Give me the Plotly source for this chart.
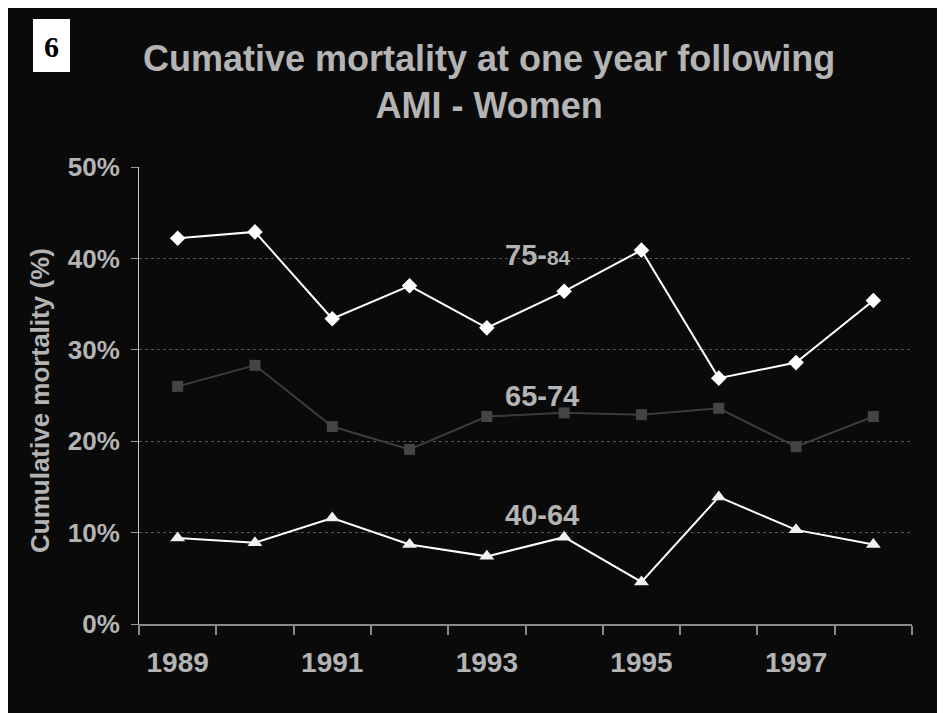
import plotly.graph_objects as go

years = ["1989", "1990", "1991", "1992", "1993", "1994", "1995", "1996", "1997", "1998"]
tick_labels = ["1989", "", "1991", "", "1993", "", "1995", "", "1997", ""]
age_75_84 = [42.2, 42.9, 33.4, 37.0, 32.4, 36.4, 40.9, 26.9, 28.6, 35.4]
age_65_74 = [26.0, 28.3, 21.6, 19.1, 22.7, 23.1, 22.9, 23.6, 19.4, 22.7]
age_40_64 = [9.4, 8.9, 11.6, 8.7, 7.4, 9.5, 4.6, 13.9, 10.3, 8.7]
y_ticks = [0, 10, 20, 30, 40, 50]
y_tick_labels = ["0%", "10%", "20%", "30%", "40%", "50%"]

FONT = "Liberation Sans, Arial, sans-serif"
GRAY = "#b4b4b4"
BG = "#0a0a0a"

fig = go.Figure()
fig.add_trace(go.Scatter(x=years, y=age_75_84, mode="lines+markers", name="75-84",
                         line=dict(color="#ffffff", width=2),
                         marker=dict(symbol="diamond", size=12, color="#ffffff")))
fig.add_trace(go.Scatter(x=years, y=age_65_74, mode="lines+markers", name="65-74",
                         line=dict(color="#3c3c3c", width=2),
                         marker=dict(symbol="square", size=11, color="#444444")))
fig.add_trace(go.Scatter(x=years, y=age_40_64, mode="lines+markers", name="40-64",
                         line=dict(color="#ffffff", width=2),
                         marker=dict(symbol="triangle-up", size=13, color="#f0f0f0")))

W, H = 945, 713
L, R, T, B = 131, 41, 159, 97
pw, ph = W - L - R, H - T - B
OFF = 8  # page margin offset seen in the reference

def px(xr):
    return (xr - OFF - L) / pw

def py(yr):
    return (H - B - (yr - OFF)) / ph

fig.update_layout(
    width=W, height=H,
    margin=dict(l=L, r=R, t=T, b=B, pad=0),
    paper_bgcolor=BG,
    plot_bgcolor=BG,
    showlegend=False,
    font=dict(family=FONT, color=GRAY, size=26, weight="bold"),
    xaxis=dict(type="category", tickvals=years, ticktext=tick_labels,
               tickson="boundaries", ticks="outside", ticklen=9, tickwidth=2,
               tickcolor="#8a8a8a", showline=True, linecolor="#8a8a8a", linewidth=2,
               showgrid=False, ticklabelstandoff=12,
               tickfont=dict(family=FONT, size=28, color=GRAY, weight="bold"),
               range=[-0.5, 9.5]),
    yaxis=dict(range=[0, 50], tickvals=y_ticks, ticktext=y_tick_labels,
               ticks="outside", ticklen=7, tickwidth=1, tickcolor="#9a9a9a",
               showline=True, linecolor="#c8c8c8", linewidth=1,
               showgrid=True, gridcolor="#555555", griddash="dot", gridwidth=1,
               zeroline=False, ticklabelstandoff=6,
               tickfont=dict(family=FONT, size=26, color=GRAY, weight="bold")),
)

fig.add_annotation(text="Cumative mortality at one year following<br>AMI - Women",
                   xref="paper", yref="paper", x=px(489), y=py(82),
                   showarrow=False, xanchor="center", yanchor="middle",
                   font=dict(family=FONT, size=36, color=GRAY, weight="bold"))

fig.add_shape(type="rect", xref="paper", yref="paper",
              x0=px(33), x1=px(70), y0=py(72), y1=py(19),
              fillcolor="#ffffff", line=dict(width=0))
fig.add_annotation(text="6", xref="paper", yref="paper", x=px(51.5), y=py(46),
                   showarrow=False, xanchor="center", yanchor="middle",
                   font=dict(family="Liberation Serif, Times New Roman, serif",
                             size=30, color="#000000", weight="bold"))

fig.add_annotation(text="Cumulative mortality (%)", xref="paper", yref="paper",
                   x=px(40), y=py(400), textangle=-90, showarrow=False,
                   xanchor="center", yanchor="middle",
                   font=dict(family=FONT, size=26, color=GRAY, weight="bold"))

series_labels = ["75-<span style='font-size:21px'>84</span>", "65-74", "40-64"]
label_y = [40.4, 25.0, 11.9]
for txt, yv in zip(series_labels, label_y):
    fig.add_annotation(text=txt, xref="paper", yref="y", x=px(503), y=yv,
                       showarrow=False, xanchor="left", yanchor="middle",
                       font=dict(family=FONT, size=29, color=GRAY, weight="bold"))

fig.write_html("out.html")
